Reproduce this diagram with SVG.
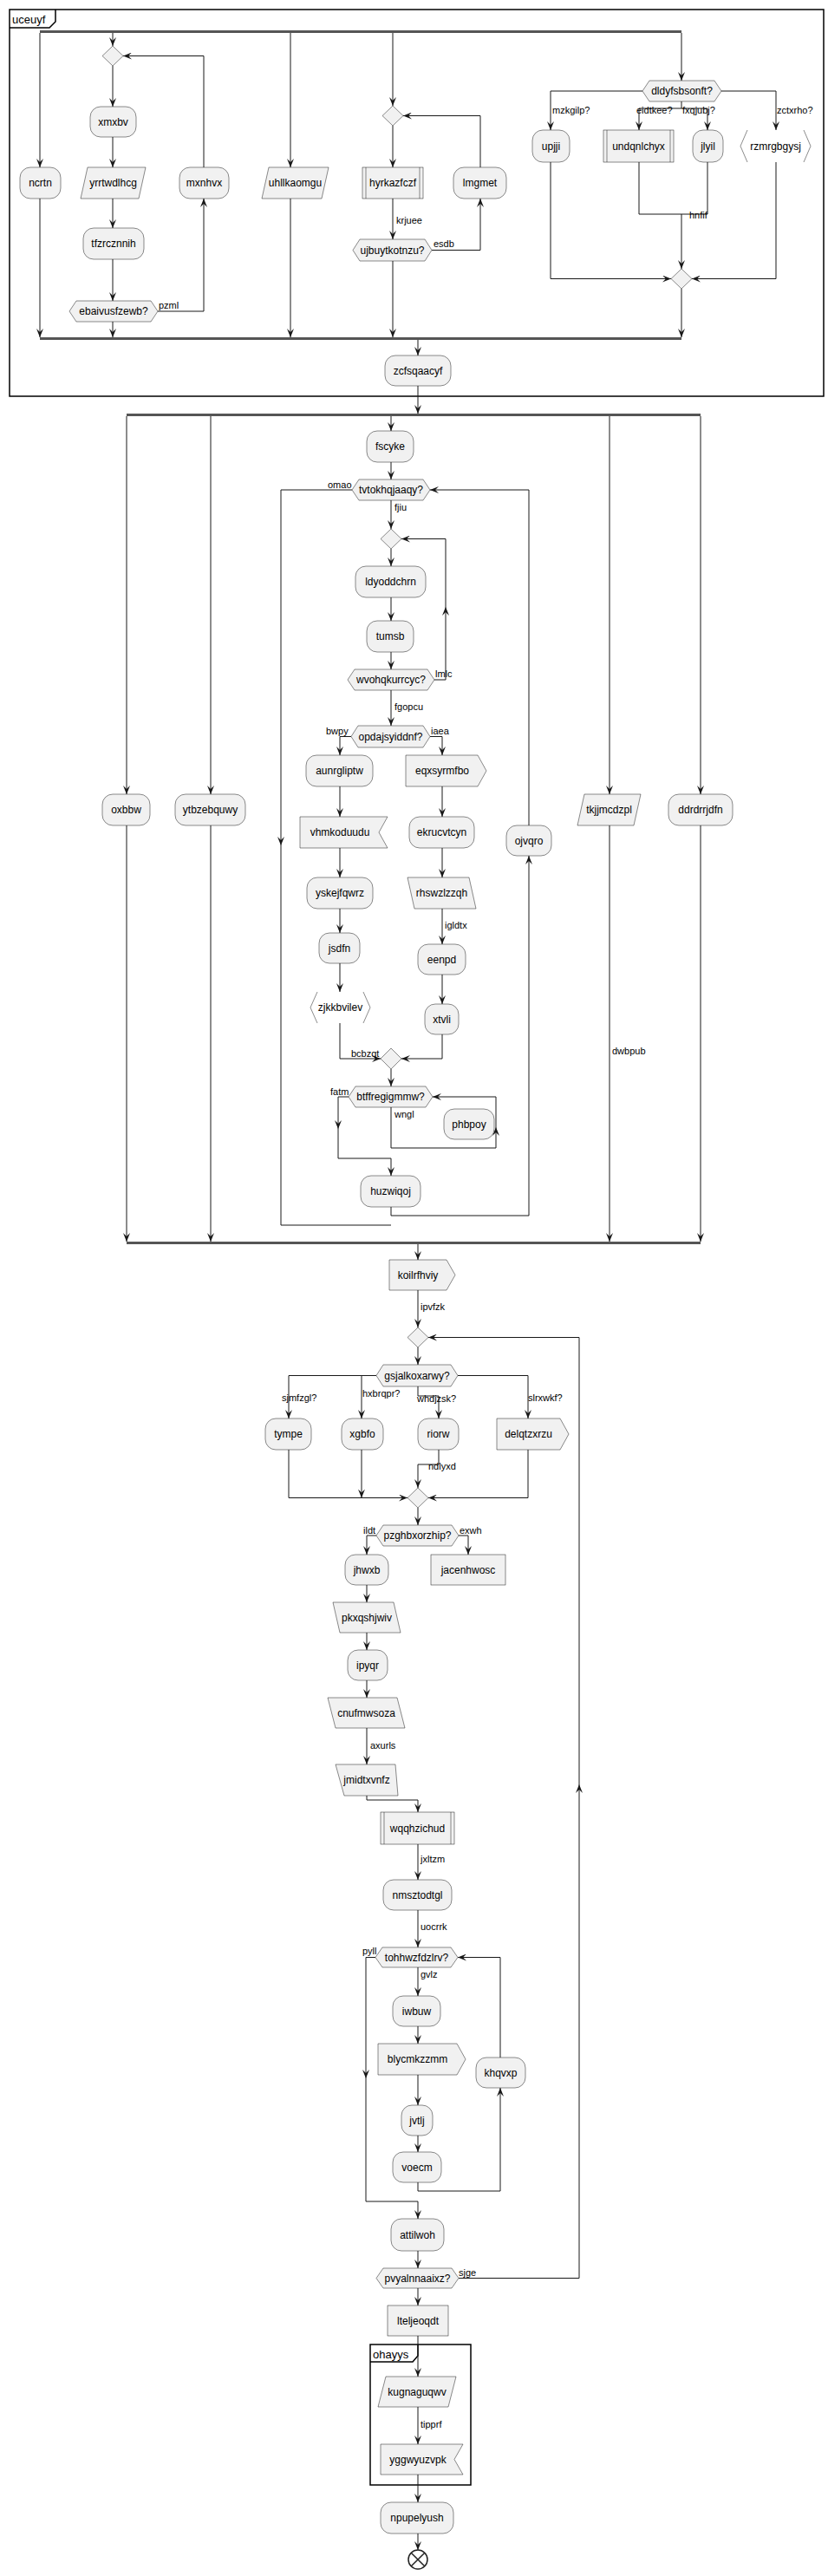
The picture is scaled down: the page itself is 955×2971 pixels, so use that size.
<svg xmlns="http://www.w3.org/2000/svg" width="955" height="2971" viewBox="0 0 955 2971">
<defs>
<marker id="ah" viewBox="0 0 10 8" refX="10" refY="4" markerWidth="10" markerHeight="8" orient="auto" markerUnits="userSpaceOnUse"><path d="M0,0 L10,4 L0,8 L4,4 Z" fill="#181818"/></marker>
</defs>
<style>
.n{fill:#F1F1F1;stroke:#181818;stroke-width:0.5}
.o{fill:none;stroke:#181818;stroke-width:0.5}
.t{font-family:"Liberation Sans",Arial,sans-serif;font-size:12px;fill:#000;text-anchor:middle}
.l{font-family:"Liberation Sans",Arial,sans-serif;font-size:11px;fill:#000}
.f{font-family:"Liberation Sans",Arial,sans-serif;font-size:13px;fill:#000}
.c path{fill:none;stroke:#181818;stroke-width:1}
.a{marker-end:url(#ah)}
.bar{fill:#555555}
.fr{fill:none;stroke:#000;stroke-width:1.5}
</style>
<rect width="955" height="2971" fill="#fff"/>
<g id="frame-uceuyf">
<rect class="fr" x="11" y="11" width="939" height="446"/>
<path class="fr" d="M11,32 L57,32 L64,25 L64,11"/>
<text class="f" x="14" y="27">uceuyf</text>
</g>
<g id="frame-ohayys">
<rect class="fr" x="427" y="2704" width="116" height="162"/>
<path class="fr" d="M427,2724 L476,2724 L482,2717 L482,2704"/>
<text class="f" x="430" y="2720">ohayys</text>
</g>
<g id="bars">
<rect class="bar" x="46" y="35" width="740" height="3"/>
<rect class="bar" x="46" y="389" width="740" height="3"/>
<rect class="bar" x="146" y="477" width="662" height="3"/>
<rect class="bar" x="146" y="1432" width="662" height="3"/>
</g>
<g class="c" id="connectors">
<path class="a" d="M46,38 L46,193"/>
<path class="a" d="M46,229 L46,389"/>
<path class="a" d="M130,38 L130,53"/>
<path class="a" d="M130,76 L130,123"/>
<path class="a" d="M130,158 L130,193"/>
<path class="a" d="M130,229 L130,263"/>
<path class="a" d="M130,299 L130,347"/>
<path class="a" d="M130,371 L130,389"/>
<path class="a" d="M182,359 L235,359 L235,229"/>
<path class="a" d="M235,193 L235,64.5 L142,64.5"/>
<path class="a" d="M335,38 L335,193"/>
<path class="a" d="M335,229 L335,389"/>
<path class="a" d="M453,38 L453,122"/>
<path class="a" d="M453,145 L453,193"/>
<path class="a" d="M453,229 L453,276"/>
<path class="a" d="M453,301 L453,389"/>
<path class="a" d="M498,288.5 L554,288.5 L554,229"/>
<path class="a" d="M554,193 L554,133.5 L465,133.5"/>
<path class="a" d="M786,38 L786,93"/>
<path class="a" d="M741,105 L635,105 L635,150"/>
<path class="a" d="M786,117 L786,125 L737,125 L737,150"/>
<path class="a" d="M786,125 L816,125 L816,150"/>
<path class="a" d="M832,105 L895,105 L895,150"/>
<path d="M737,187 L737,247 L816,247 L816,187"/>
<path class="a" d="M786,247 L786,310"/>
<path class="a" d="M635,187 L635,321.5 L774,321.5"/>
<path class="a" d="M895,187 L895,321.5 L798,321.5"/>
<path class="a" d="M786,333 L786,389"/>
<path class="a" d="M482,392 L482,410"/>
<path class="a" d="M482,445 L482,477"/>
<path class="a" d="M146,480 L146,916"/>
<path class="a" d="M146,952 L146,1432"/>
<path class="a" d="M243,480 L243,916"/>
<path class="a" d="M243,952 L243,1432"/>
<path class="a" d="M703,480 L703,916"/>
<path class="a" d="M703,952 L703,1432"/>
<path class="a" d="M808,480 L808,916"/>
<path class="a" d="M808,952 L808,1432"/>
<path class="a" d="M451,480 L451,497"/>
<path class="a" d="M451,533 L451,553"/>
<path class="a" d="M406,565 L324,565 L324,975"/>
<path d="M324,975 L324,1413 L451,1413"/>
<path class="a" d="M451,577 L451,610"/>
<path class="a" d="M451,633 L451,653"/>
<path class="a" d="M451,689 L451,716"/>
<path class="a" d="M451,752 L451,772"/>
<path class="a" d="M501,784 L514,784 L514,700"/>
<path class="a" d="M514,700 L514,621.5 L463,621.5"/>
<path class="a" d="M451,796 L451,837"/>
<path class="a" d="M405,849.5 L392,849.5 L392,871"/>
<path class="a" d="M496,849.5 L510,849.5 L510,871"/>
<path class="a" d="M392,907 L392,942"/>
<path class="a" d="M392,978 L392,1012"/>
<path class="a" d="M392,1048 L392,1076"/>
<path class="a" d="M392,1111 L392,1144"/>
<path class="a" d="M392,1180 L392,1221 L439,1221"/>
<path class="a" d="M510,907 L510,942"/>
<path class="a" d="M510,978 L510,1012"/>
<path class="a" d="M510,1048 L510,1089"/>
<path class="a" d="M510,1124 L510,1158"/>
<path class="a" d="M510,1193 L510,1221 L463,1221"/>
<path class="a" d="M451,1233 L451,1253"/>
<path class="a" d="M451,1277 L451,1324 L572,1324 L572,1300"/>
<path class="a" d="M572,1300 L572,1265 L499,1265"/>
<path class="a" d="M402,1265 L390,1265 L390,1302"/>
<path class="a" d="M390,1302 L390,1336 L451,1336 L451,1356"/>
<path class="a" d="M451,1392 L451,1402 L610,1402 L610,987"/>
<path class="a" d="M610,952 L610,565 L496,565"/>
<path class="a" d="M482,1435 L482,1453"/>
<path class="a" d="M482,1488 L482,1531"/>
<path class="a" d="M482,1554 L482,1574"/>
<path class="a" d="M434,1586.5 L333,1586.5 L333,1636"/>
<path class="a" d="M417,1586.5 L417,1636"/>
<path class="a" d="M482,1599 L482,1610 L506,1610 L506,1636"/>
<path class="a" d="M528,1586.5 L609,1586.5 L609,1636"/>
<path class="a" d="M333,1672 L333,1727.5 L470,1727.5"/>
<path class="a" d="M417,1672 L417,1727.5"/>
<path class="a" d="M506,1672 L506,1689 L482,1689 L482,1716"/>
<path class="a" d="M609,1672 L609,1727.5 L494,1727.5"/>
<path class="a" d="M482,1739 L482,1759"/>
<path class="a" d="M434,1771 L423,1771 L423,1793"/>
<path class="a" d="M529,1771 L540,1771 L540,1793"/>
<path class="a" d="M423,1828 L423,1848"/>
<path class="a" d="M423,1883 L423,1903"/>
<path class="a" d="M423,1938 L423,1958"/>
<path class="a" d="M423,1993 L423,2035"/>
<path class="a" d="M423,2071 L423,2076 L482,2076 L482,2090"/>
<path class="a" d="M482,2127 L482,2168"/>
<path class="a" d="M482,2203 L482,2246"/>
<path class="a" d="M433,2257.5 L422,2257.5 L422,2397"/>
<path class="a" d="M422,2397 L422,2539 L482,2539 L482,2559"/>
<path class="a" d="M482,2269 L482,2302"/>
<path class="a" d="M482,2337 L482,2357"/>
<path class="a" d="M482,2393 L482,2428"/>
<path class="a" d="M482,2463 L482,2482"/>
<path class="a" d="M482,2517 L482,2527 L577,2527 L577,2408"/>
<path class="a" d="M577,2373 L577,2257.5 L528,2257.5"/>
<path class="a" d="M482,2596 L482,2616"/>
<path class="a" d="M529,2627.5 L668,2627.5 L668,2058"/>
<path class="a" d="M668,2058 L668,1542.5 L494,1542.5"/>
<path class="a" d="M482,2639 L482,2659"/>
<path class="a" d="M482,2694 L482,2741"/>
<path class="a" d="M482,2776 L482,2819"/>
<path class="a" d="M482,2854 L482,2886"/>
<path class="a" d="M482,2922 L482,2941"/>
</g>
<g id="edge-labels">
<text class="l" x="183" y="356">pzml</text>
<text class="l" x="457" y="258">krjuee</text>
<text class="l" x="500" y="285">esdb</text>
<text class="l" x="637" y="131">mzkgilp?</text>
<text class="l" x="734" y="131">eidtkee?</text>
<text class="l" x="787" y="131">fxqjubj?</text>
<text class="l" x="896" y="131">zctxrho?</text>
<text class="l" x="795" y="252">hnfif</text>
<text class="l" x="378" y="563">omao</text>
<text class="l" x="455" y="589">fjiu</text>
<text class="l" x="502" y="781">lmlc</text>
<text class="l" x="455" y="819">fgopcu</text>
<text class="l" x="376" y="847">bwpy</text>
<text class="l" x="497" y="847">iaea</text>
<text class="l" x="513" y="1071">igldtx</text>
<text class="l" x="405" y="1219">bcbzqt</text>
<text class="l" x="706" y="1216">dwbpub</text>
<text class="l" x="381" y="1263">fatm</text>
<text class="l" x="455" y="1289">wngl</text>
<text class="l" x="485" y="1511">ipvfzk</text>
<text class="l" x="325" y="1616">sjmfzgl?</text>
<text class="l" x="418" y="1611">hxbrqpr?</text>
<text class="l" x="481" y="1617">whdjzsk?</text>
<text class="l" x="609" y="1616">slrxwkf?</text>
<text class="l" x="494" y="1695">ndlyxd</text>
<text class="l" x="419" y="1769">ildt</text>
<text class="l" x="530" y="1769">exwh</text>
<text class="l" x="427" y="2017">axurls</text>
<text class="l" x="485" y="2148">jxltzm</text>
<text class="l" x="485" y="2226">uocrrk</text>
<text class="l" x="418" y="2254">pyll</text>
<text class="l" x="485" y="2281">gvlz</text>
<text class="l" x="529" y="2625">sjge</text>
<text class="l" x="485" y="2800">tipprf</text>
</g>
<g id="diamonds">
<polygon class="n" points="130,53 142,64.5 130,76 118,64.5"/>
<polygon class="n" points="453,122 465,133.5 453,145 441,133.5"/>
<polygon class="n" points="786,310 798,321.5 786,333 774,321.5"/>
<polygon class="n" points="451,610 463,621.5 451,633 439,621.5"/>
<polygon class="n" points="451,1209 463,1221 451,1233 439,1221"/>
<polygon class="n" points="482,1531 494,1542.5 482,1554 470,1542.5"/>
<polygon class="n" points="482,1716 494,1727.5 482,1739 470,1727.5"/>
</g>
<g id="ncrtn"><rect class="n" x="23" y="193" width="47" height="36" rx="12"/><text class="t" x="46.5" y="215">ncrtn</text></g>
<g id="xmxbv"><rect class="n" x="104" y="123" width="53" height="35" rx="12"/><text class="t" x="130.5" y="145">xmxbv</text></g>
<g id="yrrtwdlhcg"><polygon class="n" points="101,193 168,193 160,229 93,229"/><text class="t" x="130.5" y="215">yrrtwdlhcg</text></g>
<g id="tfzrcznnih"><rect class="n" x="96" y="263" width="70" height="36" rx="12"/><text class="t" x="131" y="285">tfzrcznnih</text></g>
<g id="ebaivusfzewb"><polygon class="n" points="80,359 88,347 174,347 182,359 174,371 88,371"/><text class="t" x="131" y="363">ebaivusfzewb?</text></g>
<g id="mxnhvx"><rect class="n" x="207" y="193" width="57" height="36" rx="12"/><text class="t" x="235.5" y="215">mxnhvx</text></g>
<g id="uhllkaomgu"><polygon class="n" points="310,193 379,193 371,229 302,229"/><text class="t" x="340.5" y="215">uhllkaomgu</text></g>
<g id="hyrkazfczf"><rect class="n" x="418" y="193" width="70" height="36"/><path class="o" d="M422,193 V229 M484,193 V229"/><text class="t" x="453" y="215">hyrkazfczf</text></g>
<g id="ujbuytkotnzu"><polygon class="n" points="407,288.5 415,276 490,276 498,288.5 490,301 415,301"/><text class="t" x="452.5" y="293">ujbuytkotnzu?</text></g>
<g id="lmgmet"><rect class="n" x="523" y="193" width="61" height="36" rx="12"/><text class="t" x="553.5" y="215">lmgmet</text></g>
<g id="dldyfsbsonft"><polygon class="n" points="741,105 749,93 824,93 832,105 824,117 749,117"/><text class="t" x="786.5" y="109">dldyfsbsonft?</text></g>
<g id="upjji"><rect class="n" x="614" y="150" width="43" height="37" rx="12"/><text class="t" x="635.5" y="173">upjji</text></g>
<g id="undqnlchyx"><rect class="n" x="696" y="150" width="81" height="37"/><path class="o" d="M700,150 V187 M773,150 V187"/><text class="t" x="736.5" y="173">undqnlchyx</text></g>
<g id="jlyil"><rect class="n" x="799" y="150" width="35" height="37" rx="12"/><text class="t" x="816.5" y="173">jlyil</text></g>
<g id="rzmrgbgysj"><path class="o" d="M862,150 L854,168.5 L862,187 M927,150 L935,168.5 L927,187"/><text class="t" x="894.5" y="173">rzmrgbgysj</text></g>
<g id="zcfsqaacyf"><rect class="n" x="444" y="410" width="76" height="35" rx="12"/><text class="t" x="482" y="432">zcfsqaacyf</text></g>
<g id="fscyke"><rect class="n" x="423" y="497" width="54" height="36" rx="12"/><text class="t" x="450" y="519">fscyke</text></g>
<g id="tvtokhqjaaqy"><polygon class="n" points="406,565 414,553 488,553 496,565 488,577 414,577"/><text class="t" x="451" y="569">tvtokhqjaaqy?</text></g>
<g id="ldyoddchrn"><rect class="n" x="410" y="653" width="81" height="36" rx="12"/><text class="t" x="450.5" y="675">ldyoddchrn</text></g>
<g id="tumsb"><rect class="n" x="423" y="716" width="54" height="36" rx="12"/><text class="t" x="450" y="738">tumsb</text></g>
<g id="wvohqkurrcyc"><polygon class="n" points="401,784 409,772 493,772 501,784 493,796 409,796"/><text class="t" x="451" y="788">wvohqkurrcyc?</text></g>
<g id="opdajsyiddnf"><polygon class="n" points="405,849.5 413,837 488,837 496,849.5 488,862 413,862"/><text class="t" x="450.5" y="854">opdajsyiddnf?</text></g>
<g id="aunrgliptw"><rect class="n" x="353" y="871" width="77" height="36" rx="12"/><text class="t" x="391.5" y="893">aunrgliptw</text></g>
<g id="eqxsyrmfbo"><polygon class="n" points="468,871 551,871 561,889 551,907 468,907"/><text class="t" x="510" y="893">eqxsyrmfbo</text></g>
<g id="vhmkoduudu"><polygon class="n" points="346,942 447,942 437,960 447,978 346,978"/><text class="t" x="392" y="964">vhmkoduudu</text></g>
<g id="ekrucvtcyn"><rect class="n" x="472" y="942" width="75" height="36" rx="12"/><text class="t" x="509.5" y="964">ekrucvtcyn</text></g>
<g id="yskejfqwrz"><rect class="n" x="354" y="1012" width="76" height="36" rx="12"/><text class="t" x="392" y="1034">yskejfqwrz</text></g>
<g id="rhswzlzzqh"><polygon class="n" points="470,1012 541,1012 549,1048 478,1048"/><text class="t" x="509.5" y="1034">rhswzlzzqh</text></g>
<g id="jsdfn"><rect class="n" x="368" y="1076" width="47" height="35" rx="12"/><text class="t" x="391.5" y="1098">jsdfn</text></g>
<g id="eenpd"><rect class="n" x="482" y="1089" width="55" height="35" rx="12"/><text class="t" x="509.5" y="1111">eenpd</text></g>
<g id="zjkkbvilev"><path class="o" d="M366,1144 L358,1162 L366,1180 M419,1144 L427,1162 L419,1180"/><text class="t" x="392.5" y="1166">zjkkbvilev</text></g>
<g id="xtvli"><rect class="n" x="490" y="1158" width="39" height="35" rx="12"/><text class="t" x="509.5" y="1180">xtvli</text></g>
<g id="btffregigmmw"><polygon class="n" points="402,1265 410,1253 491,1253 499,1265 491,1277 410,1277"/><text class="t" x="450.5" y="1269">btffregigmmw?</text></g>
<g id="phbpoy"><rect class="n" x="512" y="1279" width="58" height="35" rx="12"/><text class="t" x="541" y="1301">phbpoy</text></g>
<g id="huzwiqoj"><rect class="n" x="416" y="1356" width="69" height="36" rx="12"/><text class="t" x="450.5" y="1378">huzwiqoj</text></g>
<g id="ojvqro"><rect class="n" x="584" y="952" width="52" height="35" rx="12"/><text class="t" x="610" y="974">ojvqro</text></g>
<g id="oxbbw"><rect class="n" x="118" y="916" width="55" height="36" rx="12"/><text class="t" x="145.5" y="938">oxbbw</text></g>
<g id="ytbzebquwy"><rect class="n" x="202" y="916" width="81" height="36" rx="12"/><text class="t" x="242.5" y="938">ytbzebquwy</text></g>
<g id="tkjjmcdzpl"><polygon class="n" points="674,916 739,916 731,952 666,952"/><text class="t" x="702.5" y="938">tkjjmcdzpl</text></g>
<g id="ddrdrrjdfn"><rect class="n" x="771" y="916" width="74" height="36" rx="12"/><text class="t" x="808" y="938">ddrdrrjdfn</text></g>
<g id="koilrfhviy"><polygon class="n" points="449,1453 515,1453 525,1470.5 515,1488 449,1488"/><text class="t" x="482" y="1475">koilrfhviy</text></g>
<g id="gsjalkoxarwy"><polygon class="n" points="434,1586.5 442,1574 520,1574 528,1586.5 520,1599 442,1599"/><text class="t" x="481" y="1591">gsjalkoxarwy?</text></g>
<g id="tympe"><rect class="n" x="306" y="1636" width="53" height="36" rx="12"/><text class="t" x="332.5" y="1658">tympe</text></g>
<g id="xgbfo"><rect class="n" x="394" y="1636" width="48" height="36" rx="12"/><text class="t" x="418" y="1658">xgbfo</text></g>
<g id="riorw"><rect class="n" x="482" y="1636" width="47" height="36" rx="12"/><text class="t" x="505.5" y="1658">riorw</text></g>
<g id="delqtzxrzu"><polygon class="n" points="573,1636 646,1636 656,1654 646,1672 573,1672"/><text class="t" x="609.5" y="1658">delqtzxrzu</text></g>
<g id="pzghbxorzhip"><polygon class="n" points="434,1771 442,1759 521,1759 529,1771 521,1783 442,1783"/><text class="t" x="481.5" y="1775">pzghbxorzhip?</text></g>
<g id="jhwxb"><rect class="n" x="398" y="1793" width="50" height="35" rx="12"/><text class="t" x="423" y="1815">jhwxb</text></g>
<g id="jacenhwosc"><rect class="n" x="497" y="1793" width="86" height="35"/><text class="t" x="540" y="1815">jacenhwosc</text></g>
<g id="pkxqshjwiv"><polygon class="n" points="384,1848 454,1848 462,1883 392,1883"/><text class="t" x="423" y="1870">pkxqshjwiv</text></g>
<g id="ipyqr"><rect class="n" x="401" y="1903" width="46" height="35" rx="12"/><text class="t" x="424" y="1925">ipyqr</text></g>
<g id="cnufmwsoza"><polygon class="n" points="378,1958 458,1958 467,1993 387,1993"/><text class="t" x="422.5" y="1980">cnufmwsoza</text></g>
<g id="jmidtxvnfz"><polygon class="n" points="387,2035 456,2035 459,2071 397,2071"/><text class="t" x="423" y="2057">jmidtxvnfz</text></g>
<g id="wqqhzichud"><rect class="n" x="439" y="2090" width="85" height="37"/><path class="o" d="M443,2090 V2127 M520,2090 V2127"/><text class="t" x="481.5" y="2113">wqqhzichud</text></g>
<g id="nmsztodtgl"><rect class="n" x="442" y="2168" width="79" height="35" rx="12"/><text class="t" x="481.5" y="2190">nmsztodtgl</text></g>
<g id="tohhwzfdzlrv"><polygon class="n" points="433,2257.5 441,2246 520,2246 528,2257.5 520,2269 441,2269"/><text class="t" x="480.5" y="2262">tohhwzfdzlrv?</text></g>
<g id="iwbuw"><rect class="n" x="453" y="2302" width="55" height="35" rx="12"/><text class="t" x="480.5" y="2324">iwbuw</text></g>
<g id="blycmkzzmm"><polygon class="n" points="436,2357 527,2357 537,2375 527,2393 436,2393"/><text class="t" x="481.5" y="2379">blycmkzzmm</text></g>
<g id="khqvxp"><rect class="n" x="549" y="2373" width="57" height="35" rx="12"/><text class="t" x="577.5" y="2395">khqvxp</text></g>
<g id="jvtlj"><rect class="n" x="463" y="2428" width="36" height="35" rx="12"/><text class="t" x="481" y="2450">jvtlj</text></g>
<g id="voecm"><rect class="n" x="453" y="2482" width="56" height="35" rx="12"/><text class="t" x="481" y="2504">voecm</text></g>
<g id="attilwoh"><rect class="n" x="451" y="2559" width="61" height="37" rx="12"/><text class="t" x="481.5" y="2582">attilwoh</text></g>
<g id="pvyalnnaaixz"><polygon class="n" points="434,2627.5 442,2616 521,2616 529,2627.5 521,2639 442,2639"/><text class="t" x="481.5" y="2632">pvyalnnaaixz?</text></g>
<g id="lteljeoqdt"><rect class="n" x="447" y="2659" width="70" height="35"/><text class="t" x="482" y="2681">lteljeoqdt</text></g>
<g id="kugnaguqwv"><polygon class="n" points="445,2741 526,2741 517,2776 436,2776"/><text class="t" x="481" y="2763">kugnaguqwv</text></g>
<g id="yggwyuzvpk"><polygon class="n" points="439,2819 534,2819 524,2836.5 534,2854 439,2854"/><text class="t" x="482" y="2841">yggwyuzvpk</text></g>
<g id="npupelyush"><rect class="n" x="439" y="2886" width="84" height="36" rx="12"/><text class="t" x="481" y="2908">npupelyush</text></g>
<g id="end"><circle cx="482" cy="2952" r="11" fill="#fff" stroke="#222" stroke-width="1.5"/><path d="M474.2,2944.2 L489.8,2959.8 M489.8,2944.2 L474.2,2959.8" stroke="#222" stroke-width="1.5"/></g>
</svg>
